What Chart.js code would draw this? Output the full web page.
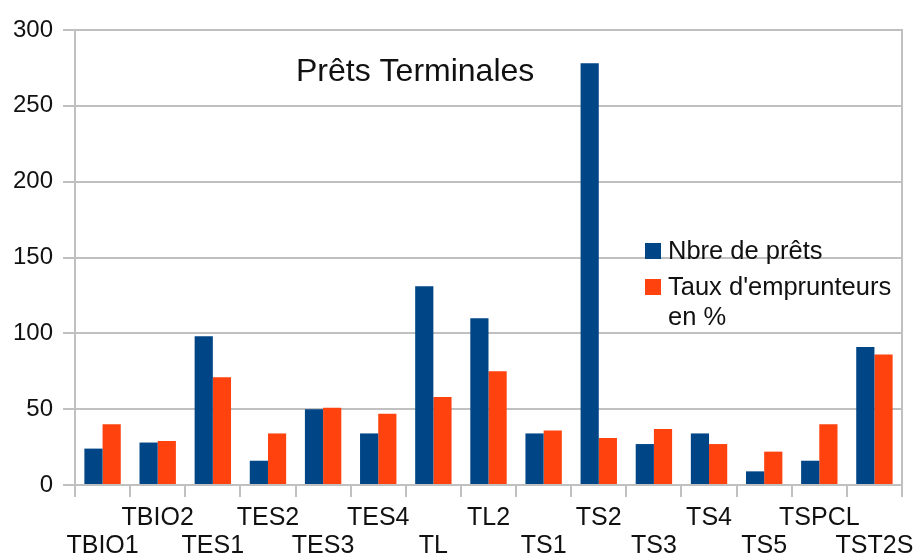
<!DOCTYPE html>
<html><head><meta charset="utf-8">
<script src="https://cdn.jsdelivr.net/npm/chart.js@4/dist/chart.umd.min.js"></script>
<style>html,body{margin:0;padding:0;background:#fff}#wrap{width:913px;height:558px;position:relative}</style>
</head><body><div id="wrap"><canvas id="c" width="913" height="558"></canvas></div>
<script>
const categories = ['TBIO1','TBIO2','TES1','TES2','TES3','TES4','TL','TL2','TS1','TS2','TS3','TS4','TS5','TSPCL','TST2S'];
const nbrePrets = [24,28,98,16,50,34,131,110,34,278,27,34,9,16,91];
const tauxEmprunteurs = [40,29,71,34,51,47,58,75,36,31,37,27,22,40,86];
const seriesNames = ['Nbre de prêts', "Taux d'emprunteurs en %"];
const legendLines = [['Nbre de prêts'], ["Taux d'emprunteurs", 'en %']];
const chartTitle = 'Prêts Terminales';
const yMin = 0, yMax = 300, yStep = 50;

const BLUE = '#004586', ORANGE = '#ff420e', GRID = '#c0c0c0', TEXT = '#111';
const FONT = '"Liberation Sans", Arial, sans-serif';

const decor = {
  id: 'decor',
  beforeDatasetsDraw(chart) {
    const {ctx, chartArea: a} = chart;
    ctx.save();
    ctx.strokeStyle = GRID; ctx.lineWidth = 2;
    ctx.beginPath(); ctx.moveTo(Math.round(a.right), a.top - 1); ctx.lineTo(Math.round(a.right), a.bottom); ctx.stroke();
    ctx.restore();
  },
  afterDatasetsDraw(chart) {
    const {ctx} = chart;
    ctx.save();
    ctx.fillStyle = TEXT;
    ctx.textBaseline = 'alphabetic';
    ctx.textAlign = 'left';
    ctx.font = '32px ' + FONT;
    ctx.fillText(chartTitle, 296, 81);
    // legend
    ctx.font = '25.5px ' + FONT;
    const colors = [BLUE, ORANGE];
    const entryY = [259, 295];
    legendLines.forEach((lines, i) => {
      ctx.fillStyle = colors[i];
      ctx.fillRect(645, entryY[i] - 16, 16, 16);
      ctx.fillStyle = TEXT;
      lines.forEach((t, j) => ctx.fillText(t, 668, entryY[i] + j * 30));
    });
    ctx.restore();
  }
};

new Chart(document.getElementById('c'), {
  type: 'bar',
  data: {
    labels: categories,
    datasets: [
      {label: seriesNames[0], data: nbrePrets, backgroundColor: BLUE, borderWidth: 0},
      {label: seriesNames[1], data: tauxEmprunteurs, backgroundColor: ORANGE, borderWidth: 0}
    ]
  },
  options: {
    responsive: false,
    animation: false,
    devicePixelRatio: 1,
    layout: {padding: {top: 30, right: 11, left: 0, bottom: 0}},
    plugins: {legend: {display: false}, title: {display: false}, tooltip: {enabled: false}},
    datasets: {bar: {categoryPercentage: 0.66, barPercentage: 1.0}},
    scales: {
      x: {
        offset: true,
        grid: {offset: true, drawOnChartArea: false, color: GRID, tickLength: 12, lineWidth: 2},
        border: {color: GRID, width: 2},
        ticks: {
          autoSkip: false, maxRotation: 0, minRotation: 0, padding: 7,
          color: TEXT, font: {family: FONT, size: 25, lineHeight: 1.12},
          callback: function(v, i) { const l = categories[i]; return i % 2 === 1 ? [l] : ['', l]; }
        },
        afterFit(s) { s.height = 73; s.paddingLeft = 0; s.paddingRight = 0; }
      },
      y: {
        min: yMin, max: yMax,
        grid: {color: GRID, tickLength: 12, lineWidth: 2},
        border: {color: GRID, width: 2},
        ticks: {stepSize: yStep, padding: 10, color: TEXT, font: {family: FONT, size: 24}},
        afterFit(s) { s.width = 75; }
      }
    }
  },
  plugins: [decor]
});
</script>
</body></html>
